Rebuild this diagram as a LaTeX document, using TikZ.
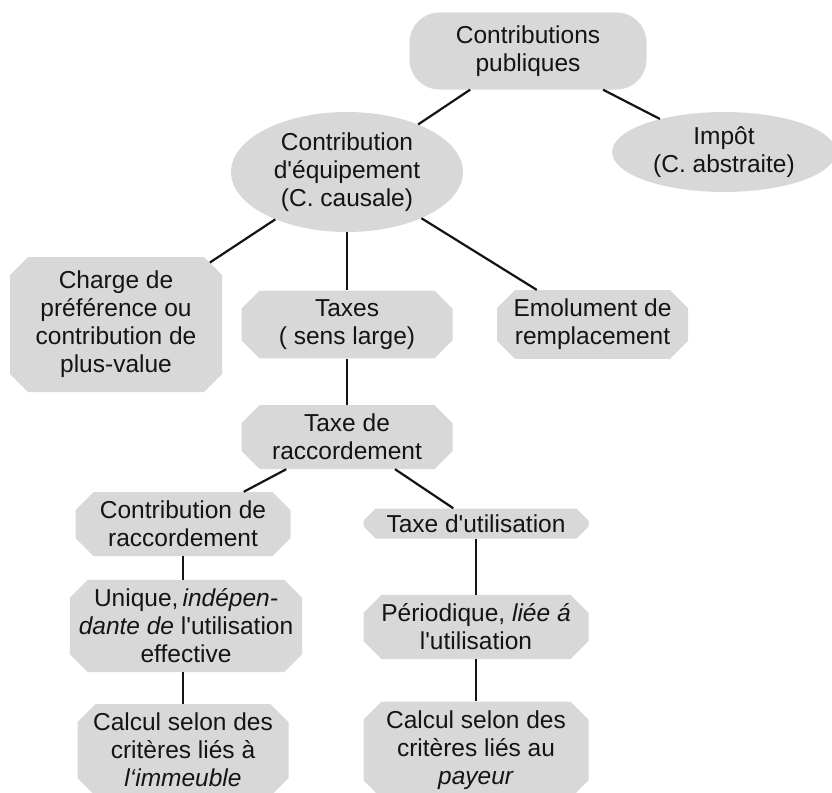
\documentclass[tikz,border=0pt]{standalone}
\usepackage{fontspec}
\setmainfont{Liberation Sans}[Ligatures=TeXOff]
\usetikzlibrary{shapes.misc,shapes.geometric}
\definecolor{boxgray}{HTML}{D8D8D8}
\definecolor{ink}{HTML}{141414}
\tikzset{
  base/.style={fill=boxgray, draw=none, text=ink, align=center, inner sep=0pt,
    font=\fontsize{24.5pt}{28pt}\selectfont},
  chbox/.style={base, chamfered rectangle, chamfered rectangle xsep=9pt,
    chamfered rectangle ysep=9pt},
  pill/.style={base, rectangle, rounded corners=30pt},
  oval/.style={base, ellipse},
  link/.style={draw=ink, line width=2.2pt}
}
\begin{document}
\begin{tikzpicture}[x=1pt,y=-1pt]
\useasboundingbox (0,0) rectangle (832,792);
\begin{scope}
\clip (0,0) rectangle (832,792);
\node[pill, minimum width=237pt, minimum height=77pt] (top) at (528,51) {Contributions\\publiques};
\node[oval, minimum width=232pt, minimum height=120pt] (equip) at (347,172) {Contribution\\d'équipement\\(C. causale)};
\node[oval, minimum width=224pt, minimum height=80pt] (impot) at (724,152) {Impôt\\(C. abstraite)};
\node[chbox, minimum width=212pt, minimum height=135pt] (charge) at (116,324.5) {Charge de\\préférence ou\\contribution de\\plus-value};
\node[chbox, minimum width=211pt, minimum height=59pt] (taxes) at (347,324.5) {Taxes\\( sens large)};
\node[chbox, minimum width=191pt, minimum height=59pt] (emol) at (592.5,324.5) {Emolument de\\remplacement};
\node[chbox, minimum width=211pt, minimum height=60pt] (traccord) at (347,437) {Taxe de\\raccordement};
\node[chbox, minimum width=215pt, minimum height=58pt] (contrib) at (183,524) {Contribution de\\raccordement};
\node[chbox, minimum width=225pt, minimum height=27pt, chamfered rectangle xsep=6pt, chamfered rectangle ysep=6pt] (util) at (476,523.5) {Taxe d'utilisation};
\node[chbox, minimum width=218pt, minimum height=88pt] (unique) at (186,626) {Unique,\,\textit{indépen-}\\\textit{dante de} l'utilisation\\effective};
\node[chbox, minimum width=225pt, minimum height=60pt] (period) at (476,627) {Périodique, \textit{liée á}\\l'utilisation};
\node[chbox, minimum width=211pt, minimum height=90pt] (calcimm) at (183,750) {Calcul selon des\\critères liés à\\\textit{l‘immeuble}};
\node[chbox, minimum width=225pt, minimum height=90pt] (calcpay) at (476,750) {Calcul selon des\\critères liés au\\\textit{payeur}};
\end{scope}
\draw[link] (top) -- (equip);
\draw[link] (top) -- (impot);
\draw[link] (equip) -- (charge);
\draw[link] (equip.south) -- (taxes.north);
\draw[link] (equip) -- (emol);
\draw[link] (taxes.south) -- (traccord.north);
\draw[link] (traccord) -- (contrib);
\draw[link] (traccord) -- (util);
\draw[link] (contrib.south) -- (contrib.south |- unique.north);
\draw[link] (unique.south -| calcimm.north) -- (calcimm.north);
\draw[link] (util.south) -- (period.north);
\draw[link] (period.south) -- (calcpay.north);
\end{tikzpicture}
\end{document}
